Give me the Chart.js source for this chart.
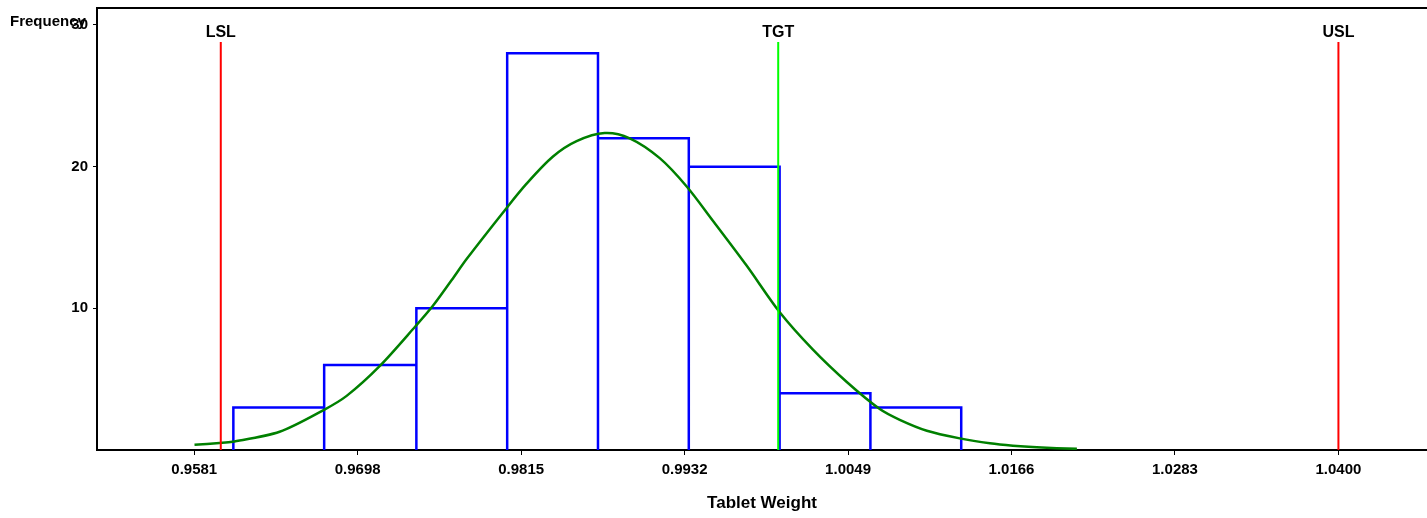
<!DOCTYPE html>
<html>
<head>
<meta charset="utf-8">
<script src="https://cdn.jsdelivr.net/npm/chart.js@4.4.1/dist/chart.umd.min.js"></script>
<style>
  body { margin: 0; background: #fff; }
  #wrap { width: 1427px; height: 518px; }
</style>
</head>
<body>
<div id="wrap"><canvas id="histChart"></canvas></div>
<script>
// histogram bins (edges) and counts
const binEdges = [0.9609, 0.9674, 0.9740, 0.9805, 0.9870, 0.9935, 1.0000, 1.0065, 1.0130];
const binCounts = [3, 6, 10, 28, 22, 20, 4, 3];

// fitted curve, points
const curveX = [0.95812, 0.95991, 0.96084, 0.96421, 0.96736, 0.96901, 0.97137, 0.97395, 0.97517,
                0.97653, 0.97761, 0.98039, 0.98189, 0.98376, 0.98547, 0.98748, 0.98927, 0.99142,
                0.99335, 0.99521, 0.99765, 1.00001, 1.00237, 1.00481, 1.00717, 1.00860, 1.01054,
                1.01290, 1.01505, 1.01670, 1.01841, 1.02128];
const curveY = [0.37, 0.49, 0.58, 1.29, 2.82, 3.82, 5.92, 8.75, 10.16,
                12.0, 13.5, 17.0, 18.8, 20.7, 21.8, 22.37, 22.0, 20.6,
                18.6, 16.2, 13.0, 9.72, 7.1, 4.8, 2.89, 2.13, 1.36,
                0.82, 0.47, 0.30, 0.19, 0.08];

// spec limits
const specNames = ['LSL', 'TGT', 'USL'];
const specValues = [0.96, 0.9999, 1.04];
const specColors = ['#ff0000', '#00ff00', '#ff0000'];
const specTop = 28.8;

// axis ticks
const xTicks = [0.9581, 0.9698, 0.9815, 0.9932, 1.0049, 1.0166, 1.0283, 1.0400];
const yTicks = [10, 20, 30];

Chart.defaults.font.family = '"Liberation Sans", Arial, sans-serif';
Chart.defaults.color = '#000';

// outline of each bar, with a gap between bars
const outline = [];
binCounts.forEach((c, i) => {
    outline.push({x: binEdges[i], y: 0});
    outline.push({x: binEdges[i], y: c});
    outline.push({x: binEdges[i + 1], y: c});
    outline.push({x: binEdges[i + 1], y: 0});
    outline.push({x: binEdges[i + 1], y: null});
});

const datasets = [{
    label: 'Histogram',
    data: outline,
    showLine: true,
    borderColor: '#0000ff',
    borderWidth: 2.5,
    pointRadius: 0,
    spanGaps: false,
    order: 3
}, {
    label: 'Normal',
    data: curveX.map((x, i) => ({x: x, y: curveY[i]})),
    showLine: true,
    borderColor: '#008000',
    borderWidth: 2.5,
    pointRadius: 0,
    tension: 0.3,
    order: 2
}];
specValues.forEach((v, i) => {
    datasets.push({
        label: specNames[i],
        data: [{x: v, y: 0}, {x: v, y: specTop}],
        showLine: true,
        borderColor: specColors[i],
        borderWidth: 2,
        pointRadius: 0,
        order: 1
    });
});

// frame on top + labels that chart.js has no place for
const extras = {
    id: 'extras',
    afterDraw(chart) {
        const ctx = chart.ctx;
        const area = chart.chartArea;
        const xs = chart.scales.x;
        ctx.save();
        ctx.strokeStyle = '#000';
        ctx.lineWidth = 2;
        ctx.beginPath();
        ctx.moveTo(area.left, area.top);
        ctx.lineTo(area.right, area.top);
        ctx.stroke();

        ctx.fillStyle = '#000';
        ctx.font = 'bold 16px "Liberation Sans", Arial, sans-serif';
        ctx.textAlign = 'center';
        ctx.textBaseline = 'alphabetic';
        specValues.forEach((v, i) => {
            ctx.fillText(specNames[i], xs.getPixelForValue(v), 37);
        });

        ctx.font = 'bold 15px "Liberation Sans", Arial, sans-serif';
        ctx.textAlign = 'left';
        ctx.fillText('Frequency', 10, 26);
        ctx.restore();
    }
};

new Chart(document.getElementById('histChart'), {
    type: 'scatter',
    data: { datasets: datasets },
    options: {
        responsive: true,
        maintainAspectRatio: false,
        animation: false,
        layout: { padding: { top: 8, right: 0, left: 0, bottom: 0 } },
        plugins: {
            legend: { display: false },
            tooltip: { enabled: false }
        },
        scales: {
            x: {
                type: 'linear',
                min: 0.95114,
                max: 1.04634,
                afterBuildTicks: s => { s.ticks = xTicks.map(v => ({value: v})); },
                afterFit: s => { s.height = 68; s.paddingLeft = 0; s.paddingRight = 0; },
                grid: { drawOnChartArea: false, drawTicks: true, tickLength: 5, color: '#000' },
                border: { display: true, color: '#000', width: 2 },
                ticks: {
                    font: { size: 15, weight: 'bold' },
                    padding: 6,
                    maxRotation: 0,
                    callback: v => Number(v).toFixed(4)
                },
                title: {
                    display: true,
                    text: 'Tablet Weight',
                    font: { size: 17, weight: 'bold' },
                    padding: { top: 4, bottom: 4 }
                }
            },
            y: {
                min: 0,
                max: 31.2,
                afterBuildTicks: s => { s.ticks = yTicks.map(v => ({value: v})); },
                afterFit: s => { s.width = 97; s.paddingTop = 0; s.paddingBottom = 0; },
                grid: { drawOnChartArea: false, drawTicks: true, tickLength: 4, color: '#000' },
                border: { display: true, color: '#000', width: 2 },
                ticks: {
                    font: { size: 15, weight: 'bold' },
                    padding: 5
                }
            }
        }
    },
    plugins: [extras]
});
</script>
</body>
</html>
